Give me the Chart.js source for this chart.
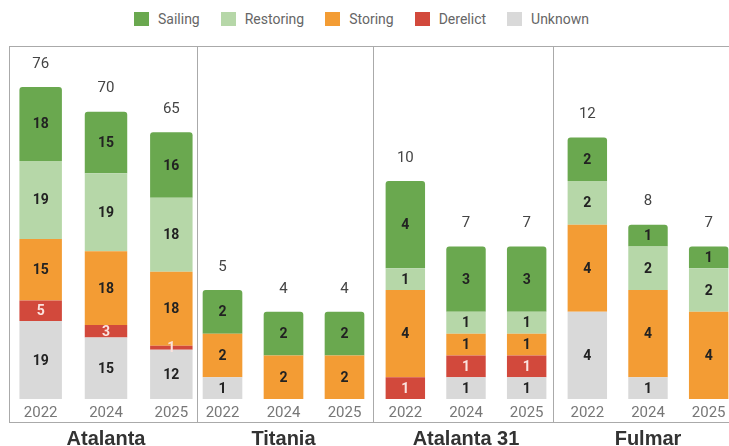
<!DOCTYPE html>
<html>
<head>
<meta charset="utf-8">
<script src="https://cdn.jsdelivr.net/npm/chart.js@4"></script>
<style>
  html, body { margin: 0; padding: 0; background: #fff; }
  body { width: 729px; height: 446px; position: relative; overflow: hidden; font-family: Roboto, sans-serif; }
  #legend { position: absolute; left: 134px; top: 11px; display: flex; gap: 21px; font-size: 14px; color: #666; }
  #legend .item { display: flex; align-items: center; }
  #legend .box { width: 15px; height: 14px; margin-right: 9px; }
  .frame { position: absolute; left: 9px; top: 46px; width: 730px; height: 377px; border: 1px solid #aaa; box-sizing: border-box; }
  .divider { position: absolute; top: 46px; width: 1px; height: 377px; background: #aaa; }
  canvas { position: absolute; top: 46px; }
</style>
</head>
<body>
<div id="legend"></div>
<div class="frame"></div>
<div class="divider" style="left:197px"></div>
<div class="divider" style="left:373px"></div>
<div class="divider" style="left:553px"></div>
<canvas id="c0" width="196" height="405" style="left:8px"></canvas>
<canvas id="c1" width="183" height="405" style="left:192px"></canvas>
<canvas id="c2" width="182" height="405" style="left:375px"></canvas>
<canvas id="c3" width="182" height="405" style="left:557px"></canvas>
<script>
const years = ['2022', '2024', '2025'];
const classes = ['Atalanta', 'Titania', 'Atalanta 31', 'Fulmar'];
const statuses = ['Sailing', 'Restoring', 'Storing', 'Derelict', 'Unknown'];
const colors = ['#6aa84f', '#b6d7a8', '#f39c34', '#d2493c', '#d9d9d9'];

// values per class, one entry per year
const unknown  = [[19, 15, 12], [1, 0, 0], [0, 1, 1], [4, 1, 0]];
const derelict = [[5, 3, 1],    [0, 0, 0], [1, 1, 1], [0, 0, 0]];
const storing  = [[15, 18, 18], [2, 2, 2], [4, 1, 1], [4, 4, 4]];
const restoring = [[19, 19, 18], [0, 0, 0], [1, 1, 1], [2, 2, 2]];
const sailing  = [[18, 15, 16], [2, 2, 2], [4, 3, 3], [2, 1, 1]];

const yMax = [86, 16.2, 16.2, 16.2];

Chart.defaults.font.family = 'Roboto, sans-serif';

// html legend
const legend = document.getElementById('legend');
statuses.forEach((s, i) => {
  legend.innerHTML += `<div class="item"><span class="box" style="background:${colors[i]}"></span>${s}</div>`;
});

const labelPlugin = {
  id: 'barLabels',
  afterDatasetsDraw(chart) {
    const ctx = chart.ctx;
    ctx.save();
    ctx.textAlign = 'center';
    ctx.textBaseline = 'middle';
    ctx.font = 'bold 14px Roboto, sans-serif';
    chart.data.datasets.forEach((ds, di) => {
      const meta = chart.getDatasetMeta(di);
      meta.data.forEach((bar, i) => {
        const v = ds.data[i];
        if (!v) return;
        ctx.fillStyle = ds.label === 'Derelict' ? '#fbe3df' : '#222';
        ctx.fillText(v, bar.x, (bar.y + bar.base) / 2 + 1);
      });
    });
    // totals
    ctx.font = '15px Roboto, sans-serif';
    ctx.fillStyle = '#444';
    const y = chart.scales.y;
    const first = chart.getDatasetMeta(0);
    years.forEach((yr, i) => {
      let total = 0;
      chart.data.datasets.forEach(ds => total += ds.data[i]);
      ctx.fillText(total, first.data[i].x, y.getPixelForValue(total) - 23);
    });
    ctx.restore();
  }
};

classes.forEach((name, k) => {
  const series = [unknown[k], derelict[k], storing[k], restoring[k], sailing[k]];
  const order = ['Unknown', 'Derelict', 'Storing', 'Restoring', 'Sailing'];
  const datasets = order.map((label, j) => ({
    label,
    data: series[j],
    backgroundColor: colors[statuses.indexOf(label)],
    borderRadius: 3,
    borderSkipped: 'start',
    barPercentage: 0.65,
    categoryPercentage: 1
  }));

  new Chart(document.getElementById('c' + k), {
    type: 'bar',
    data: { labels: years, datasets },
    options: {
      responsive: false,
      animation: false,
      layout: { padding: 0 },
      plugins: { legend: { display: false }, tooltip: { enabled: false } },
      scales: {
        x: {
          stacked: true,
          grid: { display: false, drawTicks: false },
          border: { display: false },
          ticks: { padding: 5, color: '#777', font: { size: 15 } },
          title: { display: true, text: name, padding: 0, color: '#333', font: { family: '"Liberation Sans", Arial, sans-serif', size: 20, weight: 'bold' } }
        },
        y: { stacked: true, display: false, min: 0, max: yMax[k] }
      }
    },
    plugins: [labelPlugin]
  });
});
</script>
</body>
</html>
